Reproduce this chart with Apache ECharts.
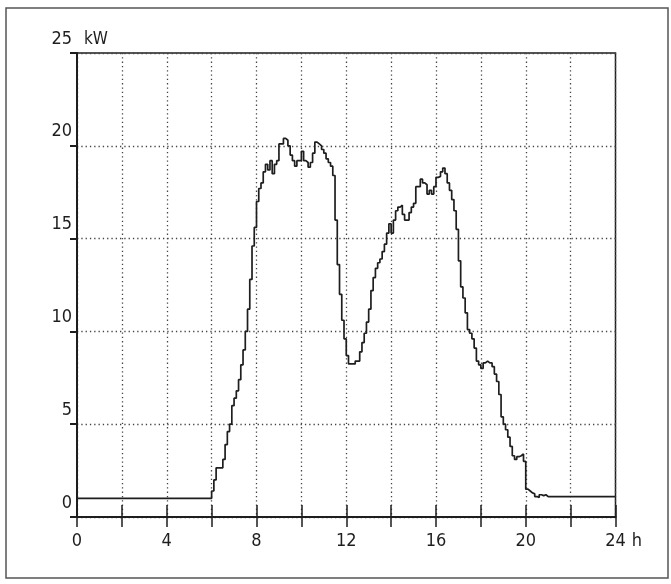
<!DOCTYPE html>
<html><head><meta charset="utf-8">
<script src="https://cdn.jsdelivr.net/npm/echarts@6/dist/echarts.min.js"></script>
<style>html,body{margin:0;padding:0;background:#fff}#c{width:671px;height:584px}</style>
</head><body><div id="c"></div>
<script>
// Night-time standby load (kW) before and after the daytime profile
const baseStart = 1.0;
const baseEnd = 1.1;
// Daytime profile: one reading every 0.1 h starting at 6.0 h
const stepStartHour = 6;
const stepHours = 0.1;
const loadKW = [
  1.4, 2.0, 2.65, 2.65, 2.65, 3.1, 3.9, 4.6, 5.0, 6.0,      // 6.0 - 6.9
  6.4, 6.8, 7.4, 8.2, 9.0, 10.0, 11.2, 12.8, 14.6, 15.6,    // 7.0 - 7.9
  17.0, 17.7, 18.0, 18.6, 19.0, 18.7, 19.2, 18.5, 19.0, 19.2, // 8.0 - 8.9
  20.1, 20.1, 20.4, 20.3, 20.0, 19.5, 19.2, 18.9, 19.2, 19.2, // 9.0 - 9.9
  19.7, 19.2, 19.1, 18.85, 19.1, 19.6, 20.2, 20.1, 20.0, 19.8, // 10.0 - 10.9
  19.6, 19.3, 19.1, 18.9, 18.4, 16.0, 13.6, 12.0, 10.6, 9.6,  // 11.0 - 11.9
  8.7, 8.25, 8.25, 8.25, 8.4, 8.4, 8.9, 9.4, 9.9, 10.5,     // 12.0 - 12.9
  11.2, 12.2, 12.9, 13.4, 13.7, 13.9, 14.3, 14.7, 15.3, 15.8, // 13.0 - 13.9
  15.3, 16.0, 16.5, 16.7, 16.8, 16.3, 16.0, 16.0, 16.4, 16.7, // 14.0 - 14.9
  16.9, 17.8, 17.8, 18.2, 18.0, 17.9, 17.4, 17.6, 17.4, 17.8, // 15.0 - 15.9
  18.3, 18.35, 18.6, 18.8, 18.5, 18.0, 17.6, 17.1, 16.5, 15.5, // 16.0 - 16.9
  13.8, 12.4, 11.8, 11.0, 10.1, 9.9, 9.6, 9.1, 8.4, 8.2,    // 17.0 - 17.9
  8.0, 8.3, 8.4, 8.3, 8.3, 8.1, 7.7, 7.3, 6.6, 5.4,         // 18.0 - 18.9
  5.0, 4.7, 4.3, 3.8, 3.3, 3.1, 3.25, 3.3, 3.4, 3.0,        // 19.0 - 19.9
  1.5, 1.4, 1.3, 1.25, 1.1, 1.05, 1.2, 1.15, 1.2, 1.1       // 20.0 - 20.9
];
const xMax = 24;
const yMax = 25;
const xLabelHours = [0, 4, 8, 12, 16, 20, 24];
const yLabelValues = [0, 5, 10, 15, 20, 25];

const series = [[0, baseStart]];
loadKW.forEach((v, i) => series.push([+(stepStartHour + i * stepHours).toFixed(2), v]));
series.push([+(stepStartHour + loadKW.length * stepHours).toFixed(2), baseEnd]);
series.push([xMax, baseEnd]);

const INK = '#1e1e1e';
const FONT = "'Liberation Sans Narrow','DejaVu Sans Condensed','DejaVu Sans Mono',monospace";

const chart = echarts.init(document.getElementById('c'), null, {renderer: 'canvas'});
chart.setOption({
  backgroundColor: '#fff',
  animation: false,
  graphic: [{
    type: 'rect', shape: {x: 6, y: 8, width: 662, height: 570},
    style: {fill: 'none', stroke: '#555', lineWidth: 1.5}, z: -1
  }],
  grid: {left: 77, right: 55.5, top: 53, bottom: 67, show: true, borderColor: INK, borderWidth: 1.5, backgroundColor: 'transparent'},
  xAxis: [{
    type: 'value', min: 0, max: xMax, interval: 2,
    axisLine: {show: true, lineStyle: {color: INK, width: 2}},
    axisTick: {show: true, length: 10, lineStyle: {color: INK, width: 1.5}},
    axisLabel: {
      margin: 15, color: INK, fontFamily: FONT, fontSize: 18,
      formatter: v => xLabelHours.includes(v) ? String(v) : ''
    },
    splitLine: {show: true, lineStyle: {color: '#444', width: 1.3, type: [1.3, 3]}},
    name: 'h', nameLocation: 'end', nameGap: 3,
    nameTextStyle: {color: INK, fontFamily: FONT, fontSize: 18, verticalAlign: 'top', padding: [15, 0, 0, 0]}
  }, {
    type: 'value', min: 0, max: xMax, interval: 2, position: 'bottom',
    axisLine: {show: false},
    axisTick: {show: true, inside: true, length: 12, lineStyle: {color: INK, width: 1.5}},
    axisLabel: {show: false}, splitLine: {show: false}
  }],
  yAxis: {
    type: 'value', min: 0, max: yMax, interval: 5,
    axisLine: {show: true, lineStyle: {color: INK, width: 2}},
    axisTick: {show: true, length: 7, lineStyle: {color: INK, width: 2}},
    axisLabel: {
      margin: 5, color: INK, fontFamily: FONT, fontSize: 18,
      verticalAlign: 'bottom', padding: [0, 0, 5, 0],
      formatter: v => yLabelValues.includes(v) ? String(v) : ''
    },
    splitLine: {show: true, lineStyle: {color: '#444', width: 1.3, type: [1.3, 3]}},
    name: 'kW', nameLocation: 'end', nameGap: 5,
    nameTextStyle: {color: INK, fontFamily: FONT, fontSize: 17, align: 'left', padding: [0, 0, 0, 7]}
  },
  series: [{
    type: 'line', step: 'end', data: series, showSymbol: false,
    lineStyle: {color: INK, width: 1.7}, xAxisIndex: 0
  }]
});
</script></body></html>
